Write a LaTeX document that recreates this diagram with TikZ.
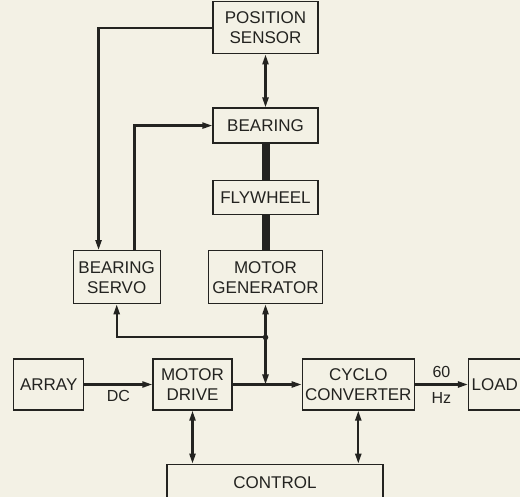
\documentclass[tikz,border=0pt]{standalone}
\usepackage{fontspec}
\setmainfont{Liberation Sans}
\usetikzlibrary{positioning,arrows.meta,calc}
\definecolor{paper}{RGB}{243,241,229}
\definecolor{ink}{RGB}{35,35,32}
\tikzset{
  blk/.style={draw=ink, line width=1.3pt, text=ink, font=\fontsize{17}{20}\selectfont, align=center, inner sep=0pt},
  sig/.style={-{Triangle[length=10pt,width=6pt]}, draw=ink, line width=2.2pt},
  bidir/.style={{Triangle[length=10pt,width=6pt]}-{Triangle[length=10pt,width=6pt]}, draw=ink, line width=2.2pt},
  shaft/.style={draw=ink, line width=8pt},
  lbl/.style={text=ink, font=\fontsize{16}{18}\selectfont}
}
\begin{document}
\begin{tikzpicture}[x=1pt, y=1pt]
  \useasboundingbox (0,0) rectangle (520,-497);
  \fill[paper] (0,0) rectangle (520,-497);
  \clip (0,0) rectangle (520,-497);
  \node[blk, minimum width=79pt, minimum height=51pt] (drive) at (192.5,-384.5) {MOTOR\\DRIVE};
  \node[blk, minimum width=70pt, minimum height=51pt, left=68pt of drive] (array) {ARRAY};
  \node[blk, minimum width=112pt, minimum height=51pt, right=69pt of drive] (cyclo) {CYCLO\\CONVERTER};
  \node[blk, minimum width=66pt, minimum height=51pt, right=53pt of cyclo, text width=60pt, align=left] (load) {LOAD};
  \node[blk, minimum width=216pt, minimum height=44pt, below=53pt of drive, xshift=82.5pt, anchor=north] (control) {\raisebox{8pt}{CONTROL}};
  \node[blk, minimum width=114pt, minimum height=53pt, above=54pt of drive, xshift=73pt] (motgen) {MOTOR\\GENERATOR};
  \node[blk, minimum width=87pt, minimum height=53pt, left=47pt of motgen] (servo) {BEARING\\SERVO};
  \node[blk, minimum width=105pt, minimum height=34pt, above=35pt of motgen] (flywheel) {FLYWHEEL};
  \node[blk, minimum width=105pt, minimum height=35pt, above=36pt of flywheel] (bearing) {BEARING};
  \node[blk, minimum width=105pt, minimum height=52pt, above=53pt of bearing] (sensor) {POSITION\\SENSOR};
  \coordinate[below=33pt of motgen] (jn);
  % shaft
  \draw[shaft] (bearing) -- (flywheel);
  \draw[shaft] (flywheel) -- (motgen);
  % power path
  \draw[sig] (array) -- node[lbl, below=1pt] {DC} (drive);
  \draw[sig] (drive) -- (cyclo);
  \draw[sig] (cyclo) -- node[lbl, above=2pt] {60} node[lbl, below=4pt] {Hz} (load);
  \draw[sig] (jn) -- (motgen);
  \draw[sig] (jn) -| (servo);
  \draw[sig] (jn) -- (jn |- drive.east);
  \fill[ink] (jn) circle (2.8pt);
  % bearing loop
  \draw[bidir] (sensor) -- (bearing);
  \draw[sig] (sensor.west) -| ($(servo.north west)+(26pt,0)$);
  \draw[sig] ($(servo.north west)+(62pt,0)$) |- (bearing.west);
  % control
  \draw[bidir] (drive.south) -- (drive.south |- control.north);
  \draw[bidir] (cyclo.south) -- (cyclo.south |- control.north);
\end{tikzpicture}
\end{document}
